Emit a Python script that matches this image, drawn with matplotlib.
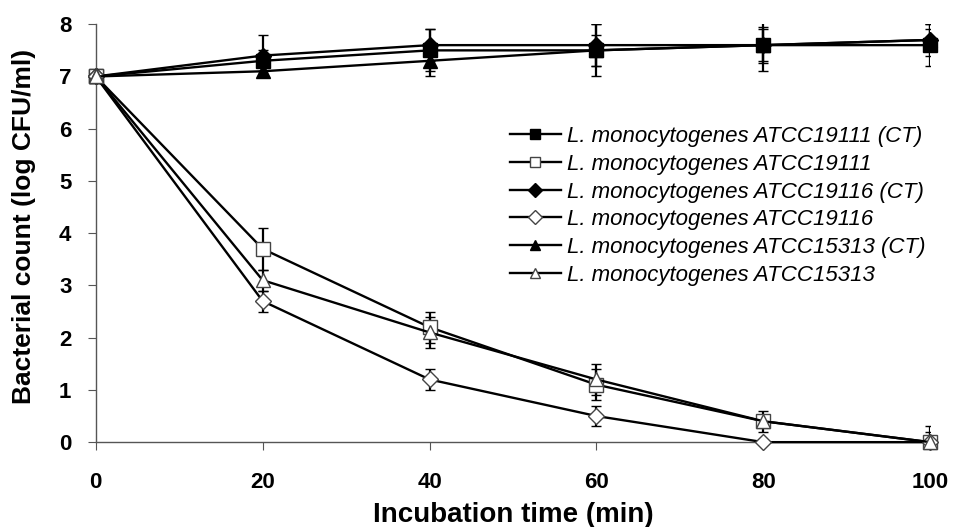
import numpy as np
import matplotlib
matplotlib.use('Agg')
import matplotlib.pyplot as plt

plt.rcParams['font.family'] = ['Liberation Sans', 'DejaVu Sans']

# ==============================================================================
# Data
#
time_min = [0, 20, 40, 60, 80, 100]

labels = [
    'L. monocytogenes ATCC19111 (CT)',
    'L. monocytogenes ATCC19111',
    'L. monocytogenes ATCC19116 (CT)',
    'L. monocytogenes ATCC19116',
    'L. monocytogenes ATCC15313 (CT)',
    'L. monocytogenes ATCC15313',
]

atcc19111_ct = [7.0, 7.3, 7.5, 7.5, 7.6, 7.6]
atcc19111_ct_err = [0.0, 0.2, 0.4, 0.5, 0.35, 0.4]
atcc19111 = [7.0, 3.7, 2.2, 1.1, 0.4, 0.0]
atcc19111_err = [0.0, 0.4, 0.3, 0.3, 0.2, 0.3]

atcc19116_ct = [7.0, 7.4, 7.6, 7.6, 7.6, 7.7]
atcc19116_ct_err = [0.0, 0.4, 0.3, 0.4, 0.3, 0.3]
atcc19116 = [7.0, 2.7, 1.2, 0.5, 0.0, 0.0]
atcc19116_err = [0.0, 0.2, 0.2, 0.2, 0.0, 0.0]

atcc15313_ct = [7.0, 7.1, 7.3, 7.5, 7.6, 7.7]
atcc15313_ct_err = [0.0, 0.1, 0.3, 0.3, 0.5, 0.2]
atcc15313 = [7.0, 3.1, 2.1, 1.2, 0.4, 0.0]
atcc15313_err = [0.0, 0.2, 0.3, 0.3, 0.1, 0.2]

series = [
    (atcc19111_ct, atcc19111_ct_err, 's', 'black'),
    (atcc19111, atcc19111_err, 's', 'white'),
    (atcc19116_ct, atcc19116_ct_err, 'D', 'black'),
    (atcc19116, atcc19116_err, 'D', 'white'),
    (atcc15313_ct, atcc15313_ct_err, '^', 'black'),
    (atcc15313, atcc15313_err, '^', 'white'),
]

# ==============================================================================
# Plot
#
fig = plt.figure(figsize=(9.58, 5.27), dpi=100)
ax = fig.add_axes([0.100, 0.161, 0.871, 0.793])

for (values, errors, marker, face), label in zip(series, labels):
    size = 8 if marker == 'D' else 10
    edge = 'black' if face == 'black' else '#444444'
    lines = ax.errorbar(time_min, values, yerr=errors, color='black', lw=1.7,
                        marker=marker, ms=size, mfc=face, mec=edge, mew=1.0,
                        ecolor='black', elinewidth=1.6, capsize=3.8, capthick=1.6,
                        label=label, zorder=3)
    lines.lines[0].set_clip_on(False)                 # markers on the axis edges

ax.set_xlim(0, 100)
ax.set_ylim(0, 8)
ax.set_xticks(time_min)
ax.set_yticks(range(0, 9))
ax.spines['top'].set_visible(False)
ax.spines['right'].set_visible(False)
for side in ('left', 'bottom'):
    ax.spines[side].set_color('#555555')
    ax.spines[side].set_linewidth(1.0)
ax.tick_params(direction='out', length=5.5, color='#555555', labelsize=16)
ax.tick_params(axis='x', pad=16)
ax.tick_params(axis='y', pad=12)
for tick in ax.get_xticklabels() + ax.get_yticklabels():
    tick.set_fontweight('bold')

ax.set_xlabel('Incubation time (min)', fontsize=20, fontweight='bold')
ax.set_ylabel('Bacterial count (log CFU/ml)', fontsize=19, fontweight='bold')
ax.xaxis.set_label_coords(0.5, -0.175)
ax.xaxis.label.set_va('center')
ax.yaxis.set_label_coords(-0.0863, 0.515)
ax.yaxis.label.set_va('center')

handles, leg_labels = ax.get_legend_handles_labels()
handles = [h[0] for h in handles]
leg = ax.legend(handles, leg_labels, loc='upper left', bbox_to_anchor=(0.496, 0.756),
                frameon=False, fontsize=16, handlelength=2.3, handletextpad=0.3,
                labelspacing=0.30, borderaxespad=0, borderpad=0)
for text in leg.get_texts():
    text.set_fontstyle('italic')
for h in leg.legend_handles:
    h.set_markersize(7)

plt.savefig('out.png', dpi=100)
